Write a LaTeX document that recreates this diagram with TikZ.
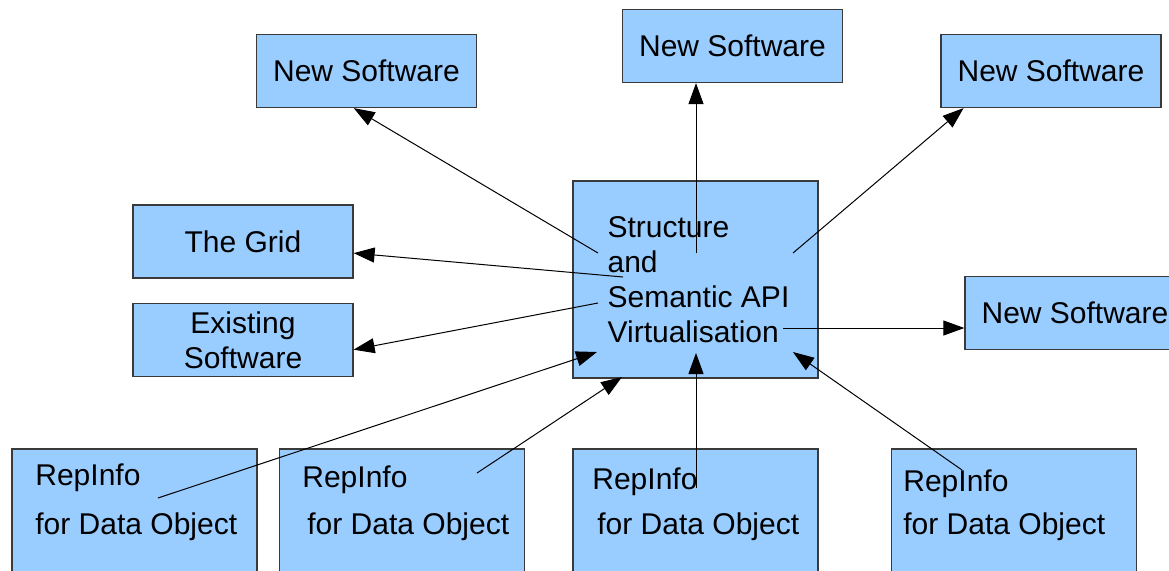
\documentclass[tikz,border=0pt]{standalone}
\usepackage{fontspec}
\setmainfont{Liberation Sans}
\usetikzlibrary{positioning, arrows.meta, calc}
\definecolor{boxfill}{HTML}{99CCFF}
\definecolor{edge}{HTML}{3A3A3A}

\begin{document}
\begin{tikzpicture}[x=0.5pt, y=-0.5pt, font=\fontsize{15}{17.5}\selectfont,
  box/.style={draw=edge, line width=0.6pt, fill=boxfill, inner sep=0pt, align=center},
  wide/.style={box, minimum width=110pt, minimum height=36.5pt},
  repbox/.style={box, minimum width=122.5pt, minimum height=90pt},
  txt/.style={anchor=north west, inner sep=0pt, align=left},
  arr/.style={-{Triangle[length=10.5pt, width=7.5pt]}, line width=0.5pt, black}]
  \useasboundingbox (0,0) rectangle (1169,570);

  % Targets
  \node[wide] (ns1) at (366.5,71) {New Software};
  \node[wide] (ns2) at (732.5,46) {New Software};
  \node[wide] (ns3) at (1051,71) {New Software};
  \node[wide] (grid) at (243,241.5) {The Grid};
  \node[wide] (exist) at (243,340) {Existing\\Software};
  \node[wide] (ns4) at (1075,313) {New Software};

  % Middle layer
  \node[box, align=left, minimum width=122.5pt, minimum height=98.5pt] (api) at (695.5,279.5)
    {\hspace*{3pt}Structure\\\hspace*{3pt}and\\\hspace*{3pt}Semantic API\\\hspace*{3pt}Virtualisation};

  % RepInfo row
  \node[repbox] (r1) at (134.5,539) {};
  \node[repbox] (r2) at (402,539) {};
  \node[repbox] (r3) at (695.5,539) {};
  \node[repbox] (r4) at (1014,539) {};
  \node[txt] (r1t) at (35,463) {RepInfo\\[7pt]for Data Object};
  \node[txt] (r2t) at (302,465) {RepInfo\\[6pt]\,for Data Object};
  \node[txt] (r3t) at (592,467) {RepInfo\\[5pt]\,for Data Object};
  \node[txt] (r4t) at (903,469) {RepInfo\\[4pt]for Data Object};

  % Glue points
  \coordinate (g1) at (598,253);
  \coordinate (g2) at (696,253);
  \coordinate (g3) at (793,253);
  \coordinate (g4) at (623,277);
  \coordinate (g5) at (598,303);
  \coordinate (g6) at (783,328);
  \coordinate (h1) at (597,352);
  \coordinate (h2) at (622,377);
  \coordinate (h3) at (696,353);
  \coordinate (h4) at (793,352);
  \coordinate (s1) at (158,498);
  \coordinate (s2) at (477,473);
  \coordinate (s3) at (696,488);
  \coordinate (s4) at (962,470);

  % Outgoing
  \draw[arr] (g1) -- (ns1.251);
  \draw[arr] (g2) -- (g2 |- ns2.south);
  \draw[arr] (g3) -- (ns3.203);
  \draw[arr] (g4) -- (grid.354);
  \draw[arr] (g5) -- (exist.355);
  \draw[arr] (g6) -- (g6 -| ns4.west);

  % Incoming
  \draw[arr] (s1) -- (h1);
  \draw[arr] (s2) -- (h2);
  \draw[arr] (s3) -- (h3);
  \draw[arr] (s4) -- (h4);
\end{tikzpicture}
\end{document}
